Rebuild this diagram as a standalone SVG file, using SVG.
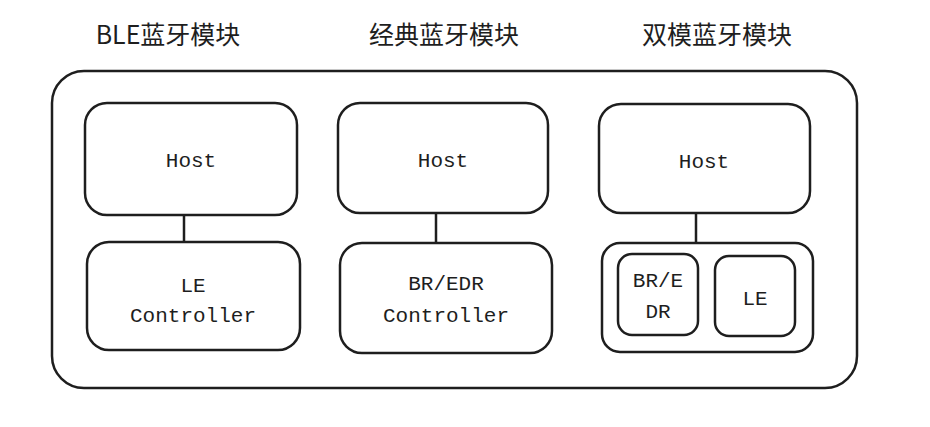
<svg xmlns="http://www.w3.org/2000/svg" width="930" height="427" viewBox="0 0 930 427">
<style>
.b{fill:#fff;stroke:#1e1e1e;stroke-width:2.5;stroke-linejoin:round}
.c{stroke:#1e1e1e;stroke-width:2.5;fill:none}
.t{font-family:"Liberation Mono",monospace;font-size:21px;fill:#1e1e1e;text-anchor:middle}
.h{font-family:"Noto Sans CJK SC",sans-serif;font-size:25px;fill:#1e1e1e;text-anchor:middle}
</style>
<rect width="930" height="427" fill="#fff"/>
<g id="titles">
<text class="h" x="168" y="44">BLE蓝牙模块</text>
<text class="h" x="444" y="44">经典蓝牙模块</text>
<text class="h" x="717" y="44">双模蓝牙模块</text>
</g>
<g id="outer"><rect class="b" x="52" y="71" width="805" height="317" rx="32"/></g>
<g id="connectors">
<line class="c" x1="184" y1="215" x2="184" y2="242"/>
<line class="c" x1="436" y1="213" x2="436" y2="243"/>
<line class="c" x1="696" y1="213" x2="696" y2="243"/>
</g>
<g id="ble-host"><rect class="b" x="85" y="103" width="212" height="112" rx="22"/><text class="t" x="191" y="167">Host</text></g>
<g id="ble-ctrl"><rect class="b" x="87" y="242" width="213" height="108" rx="22"/><text class="t" x="193" y="292">LE</text><text class="t" x="193" y="322">Controller</text></g>
<g id="cl-host"><rect class="b" x="338" y="103" width="210" height="110" rx="22"/><text class="t" x="443" y="167">Host</text></g>
<g id="cl-ctrl"><rect class="b" x="340" y="243" width="212" height="110" rx="22"/><text class="t" x="446" y="290">BR/EDR</text><text class="t" x="446" y="322">Controller</text></g>
<g id="dm-host"><rect class="b" x="599" y="104" width="211" height="109" rx="22"/><text class="t" x="704" y="168">Host</text></g>
<g id="dm-ctrl"><rect class="b" x="602" y="243" width="211" height="109" rx="18"/></g>
<g id="dm-bredr"><rect class="b" x="618" y="254" width="80" height="81" rx="14"/><text class="t" x="658" y="287">BR/E</text><text class="t" x="658" y="318">DR</text></g>
<g id="dm-le"><rect class="b" x="715" y="256" width="80" height="80" rx="14"/><text class="t" x="755" y="305">LE</text></g>
</svg>
